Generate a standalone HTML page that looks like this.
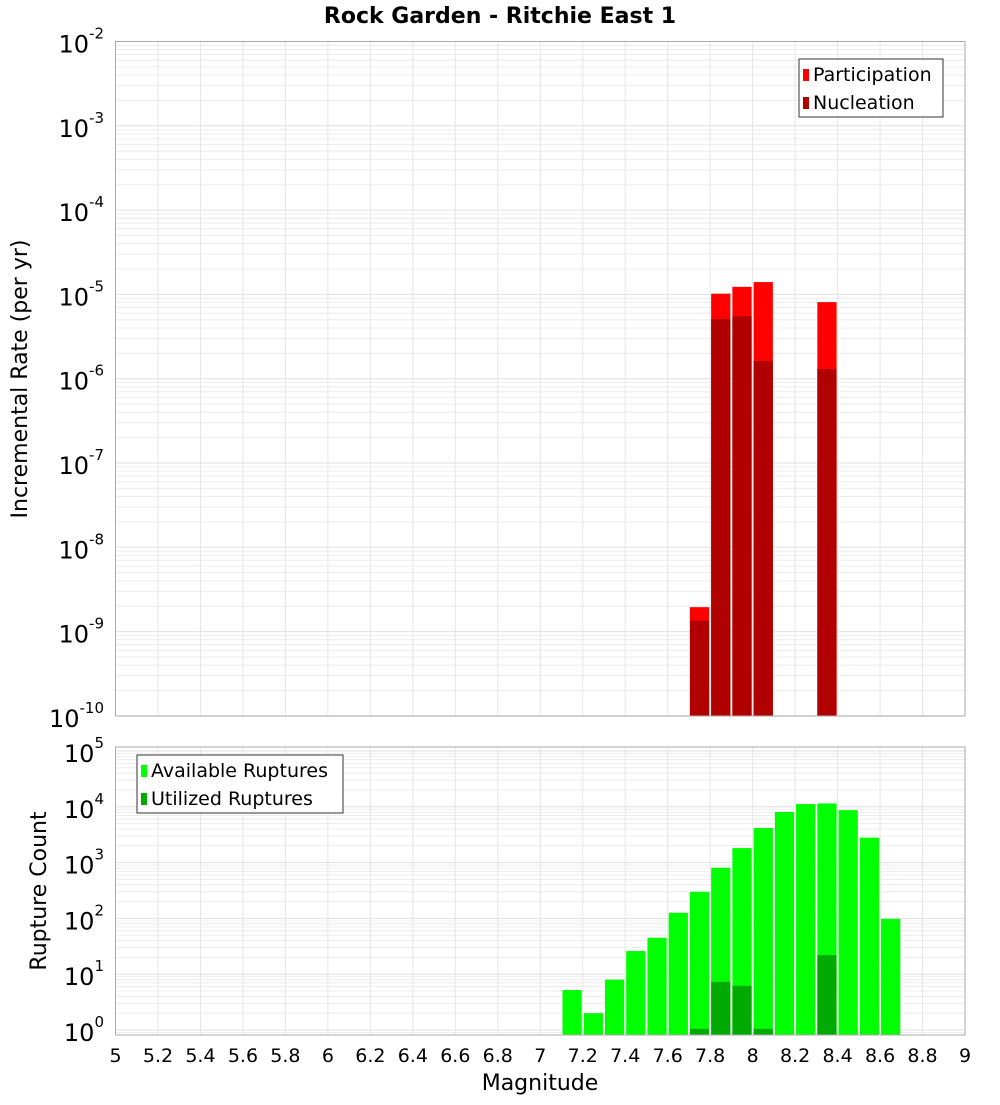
<!DOCTYPE html>
<html><head><meta charset="utf-8"><style>
body{margin:0;background:#fff;font-family:"Liberation Sans","DejaVu Sans",sans-serif;}
svg text{font-family:"DejaVu Sans","Liberation Sans",sans-serif;}
</style></head><body>
<svg id="chart" width="1000" height="1100" xmlns="http://www.w3.org/2000/svg">
<text x="500" y="23" text-anchor="middle" font-size="22" font-weight="bold">Rock Garden - Ritchie East 1</text>
<g id="top"></g><g id="bot"></g>
<text transform="translate(27,379) rotate(-90)" text-anchor="middle" font-size="22">Incremental Rate (per yr)</text>
<text transform="translate(46,891) rotate(-90)" text-anchor="middle" font-size="22">Rupture Count</text>
<text x="540" y="1090" text-anchor="middle" font-size="22">Magnitude</text>
</svg>
<script>
const binStarts=[7.7,7.8,7.9,8.0,8.3];
const participation=[1.95e-9,1.02e-5,1.23e-5,1.4e-5,8.1e-6];
const nucleation=[1.35e-9,5.1e-6,5.5e-6,1.62e-6,1.3e-6];
const countBins=[7.1,7.2,7.3,7.4,7.5,7.6,7.7,7.8,7.9,8.0,8.1,8.2,8.3,8.4,8.5,8.6];
const available=[5.2,2,8,26,45,126,300,810,1820,4170,8100,11200,11500,8700,2800,98];
const utilizedBins=[7.7,7.8,7.9,8.0,8.3];
const utilized=[1.05,7.3,6.2,1.05,22];
const xTicks=[5,5.2,5.4,5.6,5.8,6,6.2,6.4,6.6,6.8,7,7.2,7.4,7.6,7.8,8,8.2,8.4,8.6,8.8,9];
const topExps=[-10,-9,-8,-7,-6,-5,-4,-3,-2];
const botExps=[0,1,2,3,4,5];

const NS="http://www.w3.org/2000/svg";
const L=115.5,R=965;
const X=m=>L+(m-5)/4*(R-L);
const yTop=v=>41.5+(-2-Math.log10(v))*84.3;
const yBot=v=>1030-55.8*Math.log10(v);
function mk(parent,tag,attrs){const e=document.createElementNS(NS,tag);for(const k in attrs)e.setAttribute(k,attrs[k]);parent.appendChild(e);return e;}
function panel(g,top,bot,yf,exps,lo,hi,name){
  const bg=mk(g,'rect',{x:L,y:top,width:R-L,height:bot-top,fill:'#fff'});
  
  
  for(let e=lo;e<=hi;e++)for(let k=1;k<10;k++){const y=yf(k*Math.pow(10,e));if(y<top||y>bot)continue;
    const l=mk(g,'line',{x1:L,x2:R,y1:y,y2:y,stroke:k==1?'#e0e0e0':'#ececec','stroke-width':1});
    
    }
  xTicks.forEach(t=>{const l=mk(g,'line',{x1:X(t),x2:X(t),y1:top,y2:bot,stroke:'#e6e6e6'});
    
    });
  exps.forEach(e=>{const y=yf(Math.pow(10,e));const t=mk(g,'text',{x:104,y:y+11,'text-anchor':'end','font-size':24});
    
    
    t.textContent='10';const s=mk(t,'tspan',{dy:-14,'font-size':15});s.textContent=String(e);});
}
const gt=document.getElementById('top'),gb=document.getElementById('bot');
panel(gt,41.5,716,yTop,topExps,-10,-2,'top');
binStarts.forEach((b,i)=>{
  const p=mk(gt,'rect',{x:X(b)+1,y:yTop(participation[i]),width:X(b+0.1)-X(b)-2,height:716-yTop(participation[i]),fill:'#ff0000'});
  
  
  const n=mk(gt,'rect',{x:X(b)+1,y:yTop(nucleation[i]),width:X(b+0.1)-X(b)-2,height:716-yTop(nucleation[i]),fill:'#b00000'});
  
  
});
mk(gt,'rect',{x:L,y:41.5,width:R-L,height:674.5,fill:'none',stroke:'#aaa'});
panel(gb,747,1035,yBot,botExps,-1,5,'bottom');
countBins.forEach((b,i)=>{
  const r=mk(gb,'rect',{x:X(b)+1,y:yBot(available[i]),width:X(b+0.1)-X(b)-2,height:1035-yBot(available[i]),fill:'#00ff00'});
  
  
});
utilizedBins.forEach((b,i)=>{
  const r=mk(gb,'rect',{x:X(b)+1,y:yBot(utilized[i]),width:X(b+0.1)-X(b)-2,height:1035-yBot(utilized[i]),fill:'#00aa00'});
  
  
});
mk(gb,'rect',{x:L,y:747,width:R-L,height:288,fill:'none',stroke:'#aaa'});
xTicks.forEach(t=>{const e=mk(gb,'text',{x:X(t),y:1062,'text-anchor':'middle','font-size':19});
  
  
  e.textContent=String(t);});
function legend(g,x,y,w,items,name){
  const b=mk(g,'rect',{x:x,y:y,width:w,height:58,fill:'#fff',stroke:'#333'});
  
  
  items.forEach((it,i)=>{
    const s=mk(g,'rect',{x:x+4,y:y+10+i*28,width:6,height:12,fill:it[1]});
    
    
    const t=mk(g,'text',{x:x+14,y:y+22+i*28,'font-size':19});
    
    
    t.textContent=it[0];});
}
legend(gt,799,59,144,[['Participation','#ff0000'],['Nucleation','#b00000']],'top-legend');
legend(gb,137,755,206,[['Available Ruptures','#00ff00'],['Utilized Ruptures','#00aa00']],'bottom-legend');
</script>
</body></html>
